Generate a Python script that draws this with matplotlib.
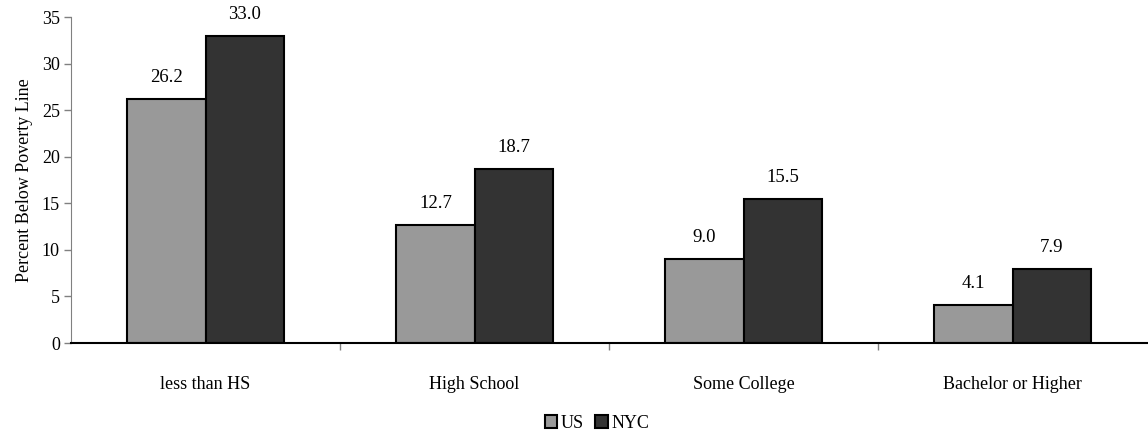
import numpy as np
import matplotlib.pyplot as plt

plt.rcParams["font.family"] = ["Liberation Serif", "DejaVu Serif"]

categories = ["less than HS", "High School", "Some College", "Bachelor or Higher"]
us = [26.2, 12.7, 9.0, 4.1]
nyc = [33.0, 18.7, 15.5, 7.9]

fig = plt.figure(figsize=(11.48, 4.4), dpi=100)
ax = fig.add_axes([71 / 1148, 1 - 343 / 440, (1147 - 71) / 1148, (343 - 17) / 440])

x = np.arange(len(categories))
w = 0.29
b1 = ax.bar(x - w / 2, us, w, color="#999999", edgecolor="black", linewidth=1.5, label="US")
b2 = ax.bar(x + w / 2, nyc, w, color="#333333", edgecolor="black", linewidth=1.5, label="NYC")

for bars, vals in [(b1, us), (b2, nyc)]:
    for bar, v in zip(bars, vals):
        ax.annotate(f"{v:.1f}", (bar.get_x() + bar.get_width() / 2, v),
                    xytext=(0, 15.5), textcoords="offset points",
                    ha="center", va="center", fontsize=13.5)

ax.set_xlim(-0.5, len(categories) - 0.5)
ax.set_ylim(0, 35)
ax.set_yticks(range(0, 36, 5))
ax.tick_params(axis="y", labelsize=13, length=5, width=1, color="#808080", pad=3)

# category labels in the middle, tick marks on the boundaries
ax.set_xticks(x)
ax.set_xticklabels(categories, fontsize=13)
ax.tick_params(axis="x", which="major", length=0, pad=24)
ax.set_xticks(np.arange(0.5, len(categories) - 0.5, 1), minor=True)
ax.tick_params(axis="x", which="minor", length=5, width=1, color="#808080")

ax.set_ylabel("Percent Below Poverty Line", fontsize=13, labelpad=6)

for s in ["top", "right"]:
    ax.spines[s].set_visible(False)
ax.spines["left"].set_color("#808080")
ax.spines["bottom"].set_color("black")
ax.spines["bottom"].set_linewidth(1.5)

fig.legend(loc="center", bbox_to_anchor=(0.52, 1 - 423 / 440), ncol=2, frameon=False,
           fontsize=13, handlelength=0.7, handleheight=0.7, handletextpad=0.2, columnspacing=0.6)

fig.savefig("out.png", dpi=100)
